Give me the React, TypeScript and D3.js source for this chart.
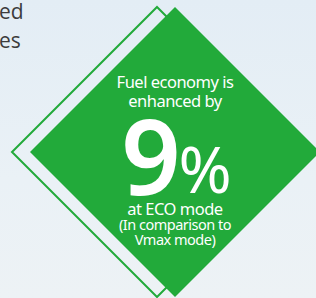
import React, { useEffect, useRef } from 'react';
import * as d3 from 'd3';

const headerLines = ['Fuel economy is', 'enhanced by'];
const improvementPct = 9;
const footerLines = ['at ECO mode'];
const noteLines = ['(In comparison to', 'Vmax mode)'];
const sideTextLines = ['ed', 'es'];

const W = 316;
const H = 298;
const GREEN = '#22aa3a';

export default function App() {
  const svgRef = useRef<SVGSVGElement>(null);

  useEffect(() => {
    if (!svgRef.current) return;
    const svg = d3.select(svgRef.current);
    svg.selectAll('*').remove();

    // background sky
    const defs = svg.append('defs');
    const grad = defs.append('linearGradient').attr('id', 'sky').attr('x1', 0).attr('y1', 0).attr('x2', 0).attr('y2', 1);
    grad.append('stop').attr('offset', '0%').attr('stop-color', '#e3edf5');
    grad.append('stop').attr('offset', '60%').attr('stop-color', '#eaf1f6');
    grad.append('stop').attr('offset', '100%').attr('stop-color', '#edf2f5');
    svg.append('rect').attr('width', W).attr('height', H).attr('fill', 'url(#sky)');

    // cut-off text on the left
    svg.append('g')
      .selectAll('text')
      .data(sideTextLines)
      .enter().append('text')
      .attr('x', -1)
      .attr('y', (_, i) => 19 + i * 29)
      .attr('font-family', 'Open Sans, sans-serif')
      .attr('font-size', 21)
      .attr('fill', '#3c3c3c')
      .text(d => d);

    const half = 145;
    const cy = 152;
    const diamond = (cx: number): [number, number][] => [
      [cx, cy - half], [cx + half, cy], [cx, cy + half], [cx - half, cy],
    ];
    const line = d3.line().curve(d3.curveLinearClosed);

    // outline diamond behind
    svg.append('path')
      .attr('d', line(diamond(157)))
      .attr('fill', 'none')
      .attr('stroke', GREEN)
      .attr('stroke-width', 2);

    // filled diamond in front
    svg.append('path')
      .attr('d', line(diamond(175)))
      .attr('fill', GREEN);

    const cx = 175;
    const font = 'Noto Sans, sans-serif';
    const g = svg.append('g').attr('fill', '#fff').attr('font-family', font).attr('text-anchor', 'middle');

    g.selectAll('.hdr')
      .data(headerLines)
      .enter().append('text')
      .attr('class', 'hdr')
      .attr('x', cx)
      .attr('y', (_, i) => 88 + i * 19)
      .attr('font-size', 16.5)
      .attr('letter-spacing', -0.5)
      .text(d => d);

    g.append('text')
      .attr('x', 151)
      .attr('y', 195)
      .attr('font-size', 104)
      .attr('font-weight', 600)
      .text(String(improvementPct));

    g.append('text')
      .attr('x', 205)
      .attr('y', 193)
      .attr('font-size', 64)
      .attr('font-weight', 400)
      .text('%');

    g.selectAll('.ftr')
      .data(footerLines)
      .enter().append('text')
      .attr('class', 'ftr')
      .attr('x', cx)
      .attr('y', 215)
      .attr('font-size', 16.5)
      .attr('letter-spacing', -0.5)
      .text(d => d);

    g.selectAll('.note')
      .data(noteLines)
      .enter().append('text')
      .attr('class', 'note')
      .attr('x', cx)
      .attr('y', (_, i) => 230 + i * 14.5)
      .attr('font-size', 14.5)
      .attr('letter-spacing', -0.5)
      .text(d => d);
  }, []);

  return (
    <svg
      ref={svgRef}
      width={W}
      height={H}
      style={{ position: 'absolute', left: 0, top: 0, display: 'block' }}
    />
  );
}
